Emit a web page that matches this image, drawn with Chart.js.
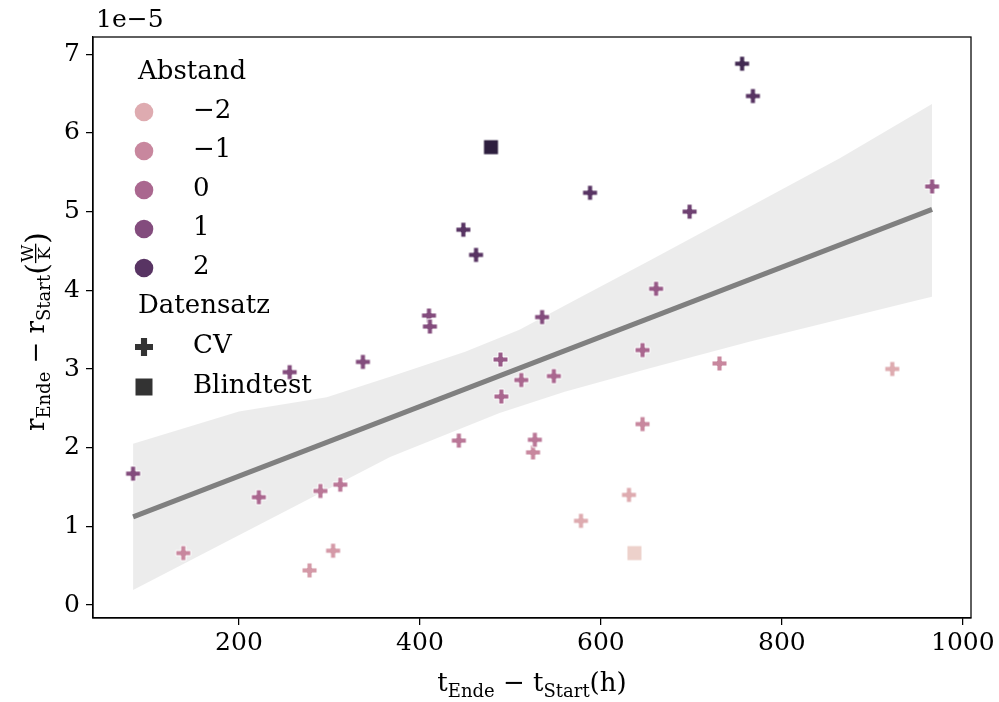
<!DOCTYPE html>
<html>
<head>
<meta charset="utf-8">
<script src="https://cdn.jsdelivr.net/npm/chart.js@4.4.0/dist/chart.umd.min.js"></script>
<style>
  body { margin: 0; background: #fff; }
  canvas { display: block; }
</style>
</head>
<body>
<canvas id="myChart" width="999" height="702"></canvas>
<script>
// y values are in units of 1e-5 W/K (offset text "1e−5")
const cvX = [83, 138.5, 222, 256, 278, 290, 304, 312, 337, 410, 411, 443, 448, 462, 489, 490, 512,
  525, 527, 535, 548, 578, 588, 631, 646, 646, 661, 698, 731, 756, 768, 922, 966];
const cvY = [1.67, 0.66, 1.37, 2.96, 0.44, 1.45, 0.69, 1.53, 3.09, 3.68, 3.54, 2.09, 4.77, 4.45, 3.12, 2.65, 2.86,
  1.94, 2.10, 3.66, 2.91, 1.07, 5.24, 1.40, 3.24, 2.30, 4.02, 5.00, 3.07, 6.88, 6.47, 3.00, 5.32];
const cvAbstand = [1, -1, 0, 1, -1.5, -0.5, -1.5, -0.5, 1, 1, 1, -0.5, 2, 2, 0.5, 0, 0,
  -1, -0.5, 1, 0, -2, 2, -2, 0, -1, 0.5, 1.5, -1, 2.5, 2, -2, 0.5];

const blindX = [478.5, 637];
const blindY = [5.82, 0.66];
const blindAbstand = [3, -3];

// regression line and confidence band
const fitX = [83, 966];
const fitY = [1.12, 5.03];
const bandUpperX = [83, 200, 297, 367, 450, 510, 569, 654, 864, 966];
const bandUpperY = [2.05, 2.46, 2.64, 2.90, 3.22, 3.50, 3.86, 4.38, 5.68, 6.37];
const bandLowerX = [83, 367, 488, 560, 654, 765, 952, 966];
const bandLowerY = [0.19, 1.88, 2.44, 2.71, 3.01, 3.35, 3.88, 3.92];

const xTicks = [200, 400, 600, 800, 1000];
const yTicks = [0, 1, 2, 3, 4, 5, 6, 7];
const legendAbstand = [-2, -1, 0, 1, 2];

const FONT = '"DejaVu Serif", serif';

// seaborn default cubehelix colormap, Abstand -3..3
function cubehelix(v) {
  const t = (v + 3) / 6;
  const x = 0.85 + (0.15 - 0.85) * t;
  const a = 0.8 * x * (1 - x) / 2;
  const phi = 2 * Math.PI * 0.4 * x;
  const c = Math.cos(phi), s = Math.sin(phi);
  const ch = k => Math.round(Math.max(0, Math.min(1, k)) * 255);
  const r = x + a * (-0.14861 * c + 1.78277 * s);
  const g = x + a * (-0.29227 * c - 0.90649 * s);
  const b = x + a * (1.97294 * c);
  return 'rgb(' + ch(r) + ',' + ch(g) + ',' + ch(b) + ')';
}

function plusImage(color, size, edge) {
  const w = size + 4;
  const cv = document.createElement('canvas');
  cv.width = w; cv.height = w;
  const ctx = cv.getContext('2d');
  const h = size / 2, k = size * 0.17;
  ctx.translate(w / 2, w / 2);
  ctx.beginPath();
  ctx.moveTo(-h, -k); ctx.lineTo(-k, -k); ctx.lineTo(-k, -h); ctx.lineTo(k, -h);
  ctx.lineTo(k, -k); ctx.lineTo(h, -k); ctx.lineTo(h, k); ctx.lineTo(k, k);
  ctx.lineTo(k, h); ctx.lineTo(-k, h); ctx.lineTo(-k, k); ctx.lineTo(-h, k);
  ctx.closePath();
  ctx.fillStyle = color; ctx.fill();
  if (edge) { ctx.strokeStyle = edge; ctx.lineWidth = 1; ctx.stroke(); }
  return cv;
}

function squareImage(color, size, edge) {
  const w = size + 4;
  const cv = document.createElement('canvas');
  cv.width = w; cv.height = w;
  const ctx = cv.getContext('2d');
  ctx.fillStyle = color;
  ctx.fillRect(2, 2, size, size);
  if (edge) { ctx.strokeStyle = edge; ctx.lineWidth = 1; ctx.strokeRect(2, 2, size, size); }
  return cv;
}

function drawPieces(ctx, pieces, x0, y0) {
  let x = x0;
  pieces.forEach(p => {
    ctx.font = p[1] + 'px ' + FONT;
    ctx.fillText(p[0], x, y0 + p[2]);
    x += ctx.measureText(p[0]).width;
  });
  return x;
}
function piecesWidth(ctx, pieces) {
  let w = 0;
  pieces.forEach(p => { ctx.font = p[1] + 'px ' + FONT; w += ctx.measureText(p[0]).width; });
  return w;
}

const decorPlugin = {
  id: 'decor',
  afterDraw(chart) {
    const ctx = chart.ctx;
    const a = chart.chartArea;
    ctx.save();
    // frame
    ctx.strokeStyle = '#000';
    ctx.lineWidth = 1.25;
    ctx.strokeRect(a.left, a.top, a.right - a.left, a.bottom - a.top);

    ctx.fillStyle = '#000';
    ctx.textAlign = 'left';
    ctx.textBaseline = 'alphabetic';

    // offset text
    ctx.font = '25px ' + FONT;
    ctx.fillText('1e\u22125', a.left + 3, 27);

    // x label
    const xl = [['t', 26, 0], ['Ende', 18, 6], [' \u2212 ', 26, 0], ['t', 26, 0], ['Start', 18, 6], ['(h)', 26, 0]];
    const xw = piecesWidth(ctx, xl);
    drawPieces(ctx, xl, (a.left + a.right) / 2 - xw / 2, 691);

    // y label (rotated)
    const yl1 = [['r', 26, 0], ['Ende', 18, 6], [' \u2212 ', 26, 0], ['r', 26, 0], ['Start', 18, 6]];
    ctx.font = '17px ' + FONT;
    const fw = Math.max(ctx.measureText('W').width, ctx.measureText('K').width) + 2;
    ctx.font = '30px ' + FONT;
    const pw = ctx.measureText('(').width;
    const total = piecesWidth(ctx, yl1) + 2 * pw + fw;
    ctx.save();
    ctx.translate(44, (a.top + a.bottom) / 2 + 4);
    ctx.rotate(-Math.PI / 2);
    let x = drawPieces(ctx, yl1, -total / 2, 0);
    ctx.font = '30px ' + FONT;
    ctx.fillText('(', x, 3);
    x += pw;
    ctx.font = '17px ' + FONT;
    ctx.textAlign = 'center';
    ctx.fillText('W', x + fw / 2, -11);
    ctx.fillText('K', x + fw / 2, 6);
    ctx.fillRect(x, -9, fw, 1.3);
    ctx.textAlign = 'left';
    x += fw;
    ctx.font = '30px ' + FONT;
    ctx.fillText(')', x, 3);
    ctx.restore();

    // legend
    const lx = a.left + 45, mx = a.left + 51, tx = a.left + 100;
    let y = 72;
    ctx.textBaseline = 'middle';
    ctx.font = '26px ' + FONT;
    ctx.fillText('Abstand', lx, y);
    legendAbstand.forEach(v => {
      y += 39;
      ctx.fillStyle = cubehelix(v);
      ctx.beginPath();
      ctx.arc(mx, y + 1, 9.3, 0, 2 * Math.PI);
      ctx.fill();
      ctx.fillStyle = '#000';
      ctx.fillText(v < 0 ? '\u2212' + (-v) : String(v), tx, y);
    });
    y += 39;
    ctx.fillText('Datensatz', lx, y);
    y += 40;
    ctx.drawImage(plusImage('#333333', 18, null), mx - 11, y - 10);
    ctx.fillText('CV', tx, y);
    y += 40;
    ctx.drawImage(squareImage('#333333', 17, null), mx - 10.5, y - 9.5);
    ctx.fillText('Blindtest', tx, y);
    ctx.restore();
  }
};

Chart.defaults.font.family = FONT;
Chart.defaults.color = '#000';

const axisCommon = {
  type: 'linear',
  grid: { drawOnChartArea: false, drawTicks: true, tickLength: 7, color: '#000', lineWidth: 1.25 },
  border: { display: true, color: '#000', width: 1.25 },
  ticks: { font: { size: 25, family: FONT }, color: '#000', callback: v => String(v) }
};

new Chart(document.getElementById('myChart'), {
  type: 'scatter',
  data: {
    datasets: [
      {
        label: 'CV',
        data: cvX.map((x, i) => ({ x: x, y: cvY[i] })),
        pointStyle: cvAbstand.map(v => plusImage(cubehelix(v), 15, '#ffffff')),
        pointRadius: 7,
        order: 0
      },
      {
        label: 'Blindtest',
        data: blindX.map((x, i) => ({ x: x, y: blindY[i] })),
        pointStyle: blindAbstand.map(v => squareImage(cubehelix(v), 15, '#ffffff')),
        pointRadius: 7,
        order: 0
      },
      {
        label: 'fit',
        data: fitX.map((x, i) => ({ x: x, y: fitY[i] })),
        showLine: true,
        borderColor: '#808080',
        borderWidth: 5,
        pointRadius: 0,
        order: 1
      },
      {
        label: 'band upper',
        data: bandUpperX.map((x, i) => ({ x: x, y: bandUpperY[i] })),
        showLine: true,
        borderWidth: 0,
        borderColor: 'rgba(0,0,0,0)',
        pointRadius: 0,
        fill: '+1',
        backgroundColor: 'rgba(128,128,128,0.15)',
        order: 2
      },
      {
        label: 'band lower',
        data: bandLowerX.map((x, i) => ({ x: x, y: bandLowerY[i] })),
        showLine: true,
        borderWidth: 0,
        borderColor: 'rgba(0,0,0,0)',
        pointRadius: 0,
        order: 2
      }
    ]
  },
  options: {
    responsive: false,
    animation: false,
    events: [],
    layout: { padding: { left: 0, right: 28, top: 37, bottom: 0 } },
    plugins: { legend: { display: false }, tooltip: { enabled: false } },
    scales: {
      x: Object.assign({}, axisCommon, {
        min: 38.7, max: 1009,
        ticks: Object.assign({}, axisCommon.ticks, { padding: 3, maxRotation: 0 }),
        afterBuildTicks: s => { s.ticks = xTicks.map(v => ({ value: v })); },
        afterFit: s => { s.height = 84; }
      }),
      y: Object.assign({}, axisCommon, {
        min: -0.165, max: 7.22,
        ticks: Object.assign({}, axisCommon.ticks, { padding: 6 }),
        afterBuildTicks: s => { s.ticks = yTicks.map(v => ({ value: v })); },
        afterFit: s => { s.width = 93; }
      })
    }
  },
  plugins: [decorPlugin]
});
</script>
</body>
</html>
